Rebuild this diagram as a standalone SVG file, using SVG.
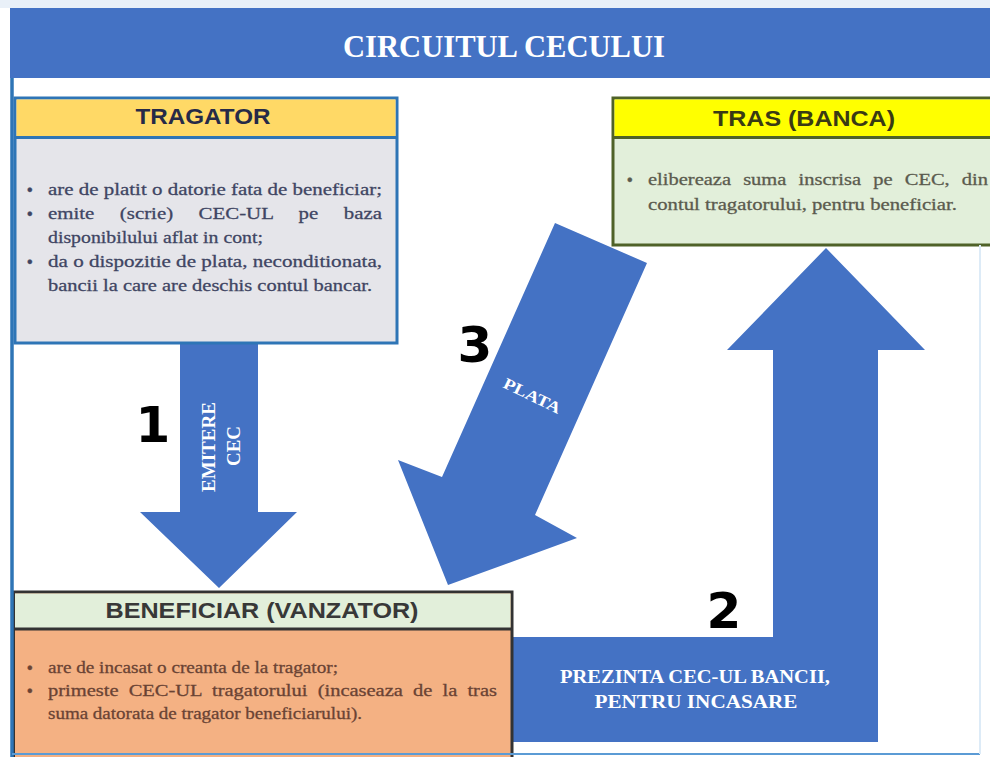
<svg xmlns="http://www.w3.org/2000/svg" width="990" height="757" viewBox="0 0 990 757">
  <style>
    .arrow { fill: #4472C4; }
    .head { font-family: "Liberation Sans", Arial, sans-serif; font-weight: bold; font-size: 22px; text-anchor: middle; }
    .body { font-family: "Liberation Serif", "Times New Roman", serif; font-size: 17.5px; stroke-width: 0.3px; }
    .bullet { font-family: "Liberation Sans", Arial, sans-serif; font-size: 16px; }
    .lbl { font-family: "Liberation Serif", "Times New Roman", serif; font-weight: bold; fill: #FFFFFF; text-anchor: middle; }
    .num { font-family: "DejaVu Sans", "Liberation Sans", sans-serif; font-weight: bold; font-size: 50px; fill: #000000; text-anchor: middle; }
  </style>

  <!-- page background -->
  <rect x="0" y="0" width="990" height="757" fill="#FFFFFF"/>
  <rect x="0" y="0" width="990" height="8" fill="#E9F0F8"/>

  <!-- title band -->
  <g id="title">
    <rect x="10" y="8" width="980" height="70" fill="#4472C4"/>
    <text x="504" y="57" class="lbl" font-size="32" textLength="322" lengthAdjust="spacingAndGlyphs">CIRCUITUL CECULUI</text>
  </g>

  <!-- flow arrows and step numbers -->
  <g id="connectors">
    <!-- 1: emitere cec -->
    <polygon class="arrow" points="180,343 258,343 258,512 297,512 219,588 140,512 180,512"/>
    <text class="lbl" font-size="19" transform="translate(215,447) rotate(-90)">EMITERE</text>
    <text class="lbl" font-size="19" transform="translate(240,446) rotate(-90)">CEC</text>
    <text class="num" x="153" y="442">1</text>

    <!-- 2: prezinta cec-ul bancii -->
    <polygon class="arrow" points="510,637 773,637 773,350 727,350 826,248 925,350 878,350 878,742 510,742"/>
    <text class="lbl" x="695" y="683" font-size="18" textLength="270" lengthAdjust="spacingAndGlyphs">PREZINTA CEC-UL BANCII,</text>
    <text class="lbl" x="696" y="708" font-size="18" textLength="203" lengthAdjust="spacingAndGlyphs">PENTRU INCASARE</text>
    <text class="num" x="724" y="628">2</text>

    <!-- 3: plata -->
    <polygon class="arrow" points="555,223 647,263 535,515 577,538 448,585 398,460 442,477"/>
    <text class="lbl" font-size="16" textLength="62" lengthAdjust="spacingAndGlyphs" transform="translate(532,396) rotate(26)" y="5">PLATA</text>
    <text class="num" x="475" y="362">3</text>
  </g>

  <!-- drawer -->
  <g id="tragator">
    <rect x="15" y="98" width="382" height="245" fill="#E5E5EA" stroke="#2E75B6" stroke-width="3"/>
    <rect x="16.5" y="99.5" width="379" height="37.5" fill="#FFD966"/>
    <line x1="15" y1="137.5" x2="397" y2="137.5" stroke="#2E75B6" stroke-width="3"/>
    <text class="head" x="203" y="124" fill="#262A48" textLength="135" lengthAdjust="spacingAndGlyphs">TRAGATOR</text>
    <g class="body" fill="#3F4563" stroke="#3F4563">
      <text class="bullet" x="27" y="195">•</text>
      <text x="48" y="195" textLength="334" lengthAdjust="spacingAndGlyphs">are de platit o datorie fata de beneficiar;</text>
      <text class="bullet" x="27" y="219">•</text>
      <text x="48" y="219" word-spacing="17" textLength="334" lengthAdjust="spacingAndGlyphs">emite (scrie) CEC-UL pe baza</text>
      <text x="48" y="243" textLength="215" lengthAdjust="spacingAndGlyphs">disponibilului aflat in cont;</text>
      <text class="bullet" x="27" y="267">•</text>
      <text x="48" y="267" textLength="334" lengthAdjust="spacingAndGlyphs">da o dispozitie de plata, neconditionata,</text>
      <text x="48" y="291" textLength="324" lengthAdjust="spacingAndGlyphs">bancii la care are deschis contul bancar.</text>
    </g>
  </g>

  <!-- drawee bank -->
  <g id="tras">
    <rect x="613" y="98" width="390" height="147" fill="#E2EFDA" stroke="#4F6228" stroke-width="3"/>
    <rect x="614.5" y="99.5" width="380" height="37.5" fill="#FFFF00"/>
    <line x1="613" y1="137.5" x2="990" y2="137.5" stroke="#4F6228" stroke-width="3"/>
    <text class="head" x="804" y="126" fill="#3A3A14" textLength="182" lengthAdjust="spacingAndGlyphs">TRAS (BANCA)</text>
    <g class="body" fill="#5B5B4E" stroke="#5B5B4E">
      <text class="bullet" x="627" y="185">•</text>
      <text x="648" y="185" word-spacing="6" textLength="340" lengthAdjust="spacingAndGlyphs">elibereaza suma inscrisa pe CEC, din</text>
      <text x="648" y="210" textLength="309" lengthAdjust="spacingAndGlyphs">contul tragatorului, pentru beneficiar.</text>
    </g>
  </g>

  <!-- payee -->
  <g id="beneficiar">
    <rect x="13.5" y="592" width="498.5" height="175" fill="#F4B183" stroke="#333333" stroke-width="3"/>
    <rect x="15" y="593.5" width="495.5" height="35" fill="#E2EFDA"/>
    <line x1="13.5" y1="629" x2="512" y2="629" stroke="#333333" stroke-width="3"/>
    <text class="head" x="262" y="618" fill="#383838" textLength="313" lengthAdjust="spacingAndGlyphs">BENEFICIAR (VANZATOR)</text>
    <g class="body" fill="#6A4334" stroke="#6A4334">
      <text class="bullet" x="27" y="673">•</text>
      <text x="48" y="673" textLength="290" lengthAdjust="spacingAndGlyphs">are de incasat o creanta de la tragator;</text>
      <text class="bullet" x="27" y="696">•</text>
      <text x="48" y="696" word-spacing="4.3" textLength="449" lengthAdjust="spacingAndGlyphs">primeste CEC-UL tragatorului (incaseaza de la tras</text>
      <text x="48" y="719" textLength="314" lengthAdjust="spacingAndGlyphs">suma datorata de tragator beneficiarului).</text>
    </g>
  </g>

  <!-- page frame -->
  <g id="frame" fill="none">
    <line x1="12" y1="78" x2="12" y2="757" stroke="#2E75B6" stroke-width="3.5"/>
    <line x1="12" y1="754" x2="980" y2="754" stroke="#5B9BD5" stroke-width="2"/>
    <line x1="980" y1="245" x2="980" y2="754" stroke="#DDEBF7" stroke-width="2"/>
  </g>
</svg>
